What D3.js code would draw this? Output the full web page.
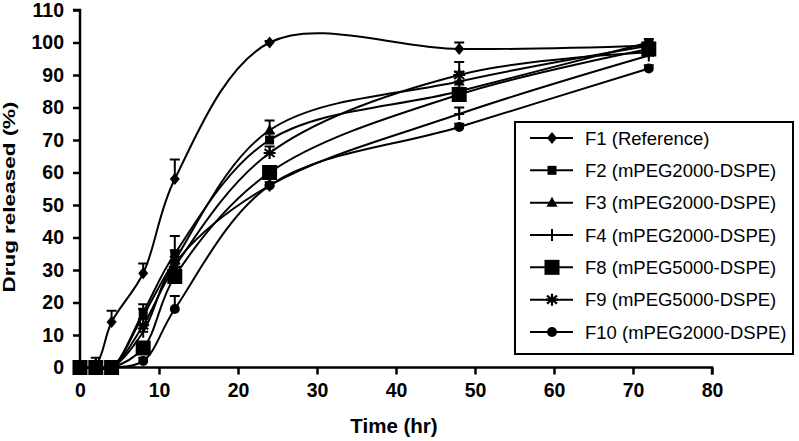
<!DOCTYPE html>
<html><head><meta charset="utf-8">
<script src="https://cdn.jsdelivr.net/npm/d3@7"></script>
<style>
body{margin:0;background:#fff;}
svg{display:block;}
.tick text{font-family:"Liberation Sans",Arial,sans-serif;font-weight:bold;font-size:19.5px;}
</style></head>
<body><svg id="c" width="799" height="441"></svg>
<script>
const times = [0, 2, 4, 8, 12, 24, 48, 72];
const seriesNames = ["F1 (Reference)", "F2 (mPEG2000-DSPE)", "F3 (mPEG2000-DSPE)", "F4 (mPEG2000-DSPE)", "F8 (mPEG5000-DSPE)", "F9 (mPEG5000-DSPE)", "F10 (mPEG2000-DSPE)"];
const F1  = [0, 1, 14, 29, 58, 100, 98, 99];
const F2  = [0, 0, 0, 17, 35, 70, 85, 100];
const F3  = [0, 0, 0, 16, 33, 73, 88, 99];
const F4  = [0, 0, 0, 11, 32, 56, 78, 96];
const F8  = [0, 0, 0, 6, 28, 60, 84, 98];
const F9  = [0, 0, 0, 13, 31, 66, 90, 97];
const F10 = [0, 0, 0, 2, 18, 56, 74, 92];
const E1  = [0, 2, 3.5, 3, 6, 0.5, 2, 1];
const E2  = [0, 0, 0, 2.5, 5.5, 2, 3, 1];
const E3  = [0, 0, 0, 2, 3, 3, 3, 1];
const E4  = [0, 1, 0, 2, 2, 2, 2, 1];
const E8  = [0, 0, 0, 1, 3, 2, 2, 1];
const E9  = [0, 0, 0, 2, 2, 2, 4, 1];
const E10 = [0, 0, 0, 1, 4, 1, 1, 1];
const xTicks = [0, 10, 20, 30, 40, 50, 60, 70, 80];
const yTicks = [0, 10, 20, 30, 40, 50, 60, 70, 80, 90, 100, 110];
const markers = ["diamond", "square", "triangle", "plus", "bigsquare", "star", "circle"];

const values = [F1, F2, F3, F4, F8, F9, F10];
const errs = [E1, E2, E3, E4, E8, E9, E10];

const svg = d3.select("#c");
const x = d3.scaleLinear().domain([0, 80]).range([80, 712]);
const y = d3.scaleLinear().domain([0, 110]).range([367.5, 10]);

function marker(g, type, cx, cy) {
  if (type === "diamond") {
    g.append("path").attr("d", `M${cx},${cy-6}L${cx+5},${cy}L${cx},${cy+6}L${cx-5},${cy}Z`).attr("fill", "#000");
  } else if (type === "square") {
    g.append("rect").attr("x", cx-4.5).attr("y", cy-4.5).attr("width", 9).attr("height", 9).attr("fill", "#000");
  } else if (type === "bigsquare") {
    g.append("rect").attr("x", cx-7.5).attr("y", cy-7.5).attr("width", 15).attr("height", 15).attr("fill", "#000");
  } else if (type === "triangle") {
    g.append("path").attr("d", `M${cx},${cy-6}L${cx+5.5},${cy+4}L${cx-5.5},${cy+4}Z`).attr("fill", "#000");
  } else if (type === "plus") {
    g.append("path").attr("d", `M${cx},${cy-6}V${cy+6}M${cx-5},${cy}H${cx+5}`).attr("stroke", "#000").attr("stroke-width", 2);
  } else if (type === "star") {
    g.append("path").attr("d", `M${cx},${cy-6}V${cy+6}M${cx-5},${cy-4}L${cx+5},${cy+4}M${cx-5},${cy+4}L${cx+5},${cy-4}M${cx-6},${cy}H${cx+6}`).attr("stroke", "#000").attr("stroke-width", 2.2);
  } else if (type === "circle") {
    g.append("circle").attr("cx", cx).attr("cy", cy).attr("r", 5).attr("fill", "#000");
  }
}

// axes
const xAxis = d3.axisBottom(x).tickValues(xTicks).tickSize(7).tickPadding(9);
const yAxis = d3.axisLeft(y).tickValues(yTicks).tickSize(7).tickPadding(9);
const gx = svg.append("g").attr("transform", "translate(0,367.5)").call(xAxis);
const gy = svg.append("g").attr("transform", "translate(80,0)").call(yAxis);
[gx, gy].forEach(g => {
  g.select(".domain").attr("stroke-width", 2.5).attr("stroke", "#000");
  g.selectAll(".tick line").attr("stroke-width", 2.5).attr("stroke", "#000");
  g.selectAll(".tick text").attr("fill", "#000");
});
gx.select(".domain").attr("d", `M80,7V0H712V7`);
gy.select(".domain").attr("d", `M-7,10H0V367.5H-7`);

svg.append("text").attr("x", 394).attr("y", 433).attr("text-anchor", "middle")
  .style("font-family", '"Liberation Sans",Arial,sans-serif').style("font-weight", "bold").style("font-size", "20.5px")
  .text("Time (hr)");
svg.append("text").attr("transform", "translate(15,197) rotate(-90) scale(1,0.72)").attr("text-anchor", "middle")
  .style("font-family", '"Liberation Sans",Arial,sans-serif').style("font-weight", "bold").style("font-size", "22.5px")
  .text("Drug released (%)");

// lines
const line = d3.line().x(d => x(d[0])).y(d => y(d[1])).curve(d3.curveCatmullRom.alpha(0.5));
const plot = svg.append("g");
values.forEach((vals, i) => {
  const pts = times.map((t, j) => [t, vals[j]]);
  plot.append("path").attr("d", line(pts)).attr("fill", "none").attr("stroke", "#000").attr("stroke-width", 2);
});
// error bars
values.forEach((vals, i) => {
  times.forEach((t, j) => {
    const e = errs[i][j];
    if (e > 0) {
      const cx = x(t), y0 = y(vals[j]), y1 = y(vals[j] + e);
      plot.append("path").attr("d", `M${cx},${y0}V${y1}M${cx-5},${y1}H${cx+5}`).attr("stroke", "#000").attr("stroke-width", 2).attr("fill", "none");
    }
  });
});
// markers
values.forEach((vals, i) => {
  times.forEach((t, j) => marker(plot, markers[i], x(t), y(vals[j])));
});

// legend
const lg = svg.append("g");
lg.append("rect").attr("x", 515).attr("y", 122).attr("width", 278).attr("height", 232)
  .attr("fill", "#fff").attr("stroke", "#000").attr("stroke-width", 2);
const rowY = d3.scalePoint().domain(seriesNames).range([138, 332]);
seriesNames.forEach((n, i) => {
  const yy = rowY(n);
  lg.append("line").attr("x1", 530).attr("x2", 573).attr("y1", yy).attr("y2", yy).attr("stroke", "#000").attr("stroke-width", 2);
  marker(lg, markers[i], 552, yy);
  lg.append("text").attr("x", 585).attr("y", yy + 6.5)
    .style("font-family", '"Liberation Sans",Arial,sans-serif').style("font-size", "18.5px").text(n);
});
</script></body></html>
